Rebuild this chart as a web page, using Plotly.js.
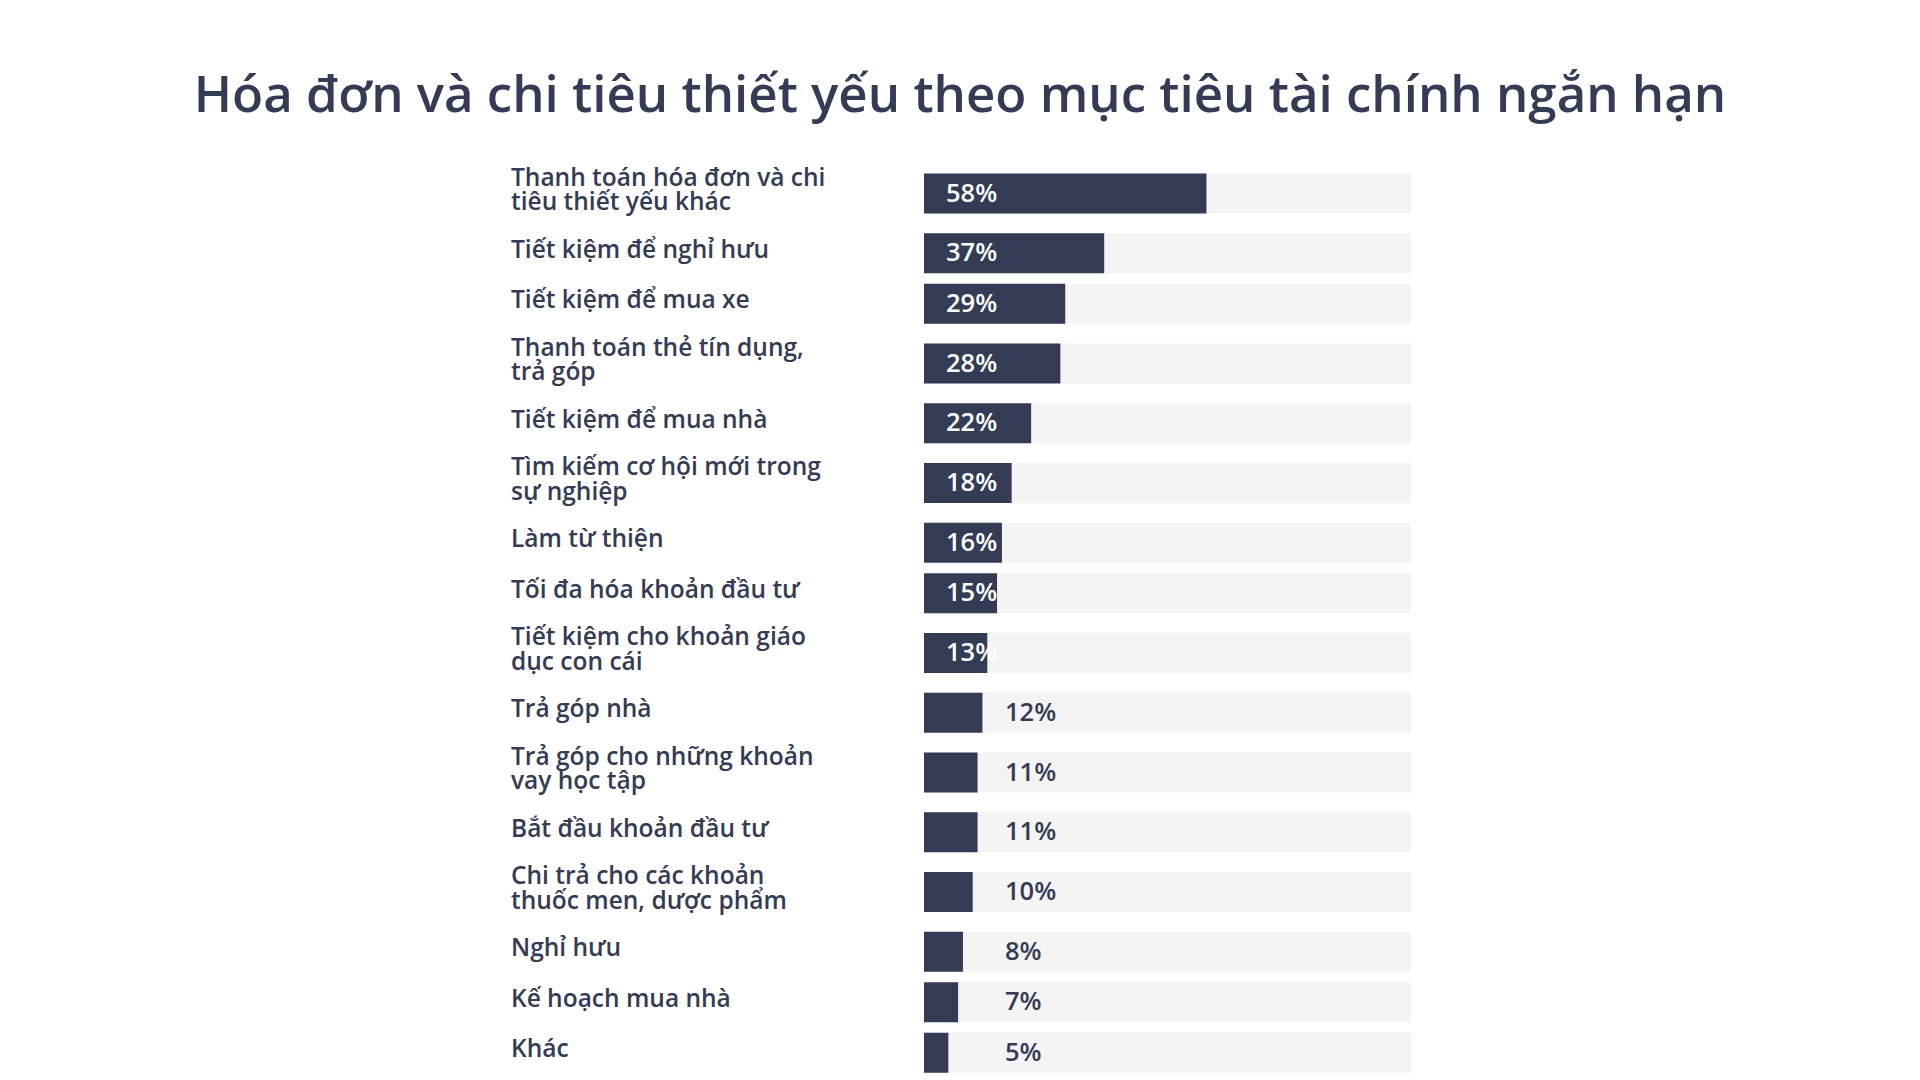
<!DOCTYPE html>
<html>
<head>
<meta charset="utf-8">
<script src="https://cdn.plot.ly/plotly-3.0.1.min.js"></script>
<style>
  body { margin: 0; background: #fff; }
  #chart { width: 1920px; height: 1080px; }
</style>
</head>
<body>
<div id="chart"></div>
<script>
// labels top to bottom, <br> marks where the original wraps
var goals = [
  "Thanh toán hóa đơn và chi<br>tiêu thiết yếu khác",
  "Tiết kiệm để nghỉ hưu",
  "Tiết kiệm để mua xe",
  "Thanh toán thẻ tín dụng,<br>trả góp",
  "Tiết kiệm để mua nhà",
  "Tìm kiếm cơ hội mới trong<br>sự nghiệp",
  "Làm từ thiện",
  "Tối đa hóa khoản đầu tư",
  "Tiết kiệm cho khoản giáo<br>dục con cái",
  "Trả góp nhà",
  "Trả góp cho những khoản<br>vay học tập",
  "Bắt đầu khoản đầu tư",
  "Chi trả cho các khoản<br>thuốc men, dược phẩm",
  "Nghỉ hưu",
  "Kế hoạch mua nhà",
  "Khác"
];
var shares = [58, 37, 29, 28, 22, 18, 16, 15, 13, 12, 11, 11, 10, 8, 7, 5];
var fullScale = 100;

var navy = "#343b55";
var track = "#f4f4f4";
var font = "Open Sans, Noto Sans, sans-serif";

// rows with two-line labels get more room, like the original
var rowH1 = 50.5, rowH2 = 69;
var ypos = [];
var acc = 0;
for (var i = 0; i < goals.length; i++) {
  var h = goals[i].indexOf("<br>") >= 0 ? rowH2 : rowH1;
  ypos.push(acc + h / 2);
  acc += h;
}
var total = acc;

var trackTrace = {
  type: "bar",
  orientation: "h",
  x: goals.map(function () { return fullScale; }),
  y: ypos,
  width: 40,
  marker: { color: track },
  hoverinfo: "skip",
  showlegend: false
};

var barTrace = {
  type: "bar",
  orientation: "h",
  x: shares,
  y: ypos,
  width: 40,
  marker: { color: navy },
  hoverinfo: "skip",
  showlegend: false
};

// each label line is its own annotation so the tight line spacing can be kept
var lineGap = 24.5;
var annotations = [];
for (var j = 0; j < goals.length; j++) {
  var lines = goals[j].split("<br>");
  for (var k = 0; k < lines.length; k++) {
    var off = (lines.length - 1) / 2 - k;
    annotations.push({
      xref: "paper", yref: "y",
      x: -0.852, y: ypos[j],
      xanchor: "left", yanchor: "middle", align: "left",
      yshift: 5 + off * lineGap,
      text: lines[k],
      showarrow: false,
      font: { family: font, size: 24.5, color: navy, weight: 600 }
    });
  }
  var inside = shares[j] >= 13;
  annotations.push({
    xref: "x", yref: "y",
    x: 0, y: ypos[j],
    xanchor: "left", yanchor: "middle",
    xshift: inside ? 20 : 79,
    yshift: 2,
    text: shares[j] + "%",
    showarrow: false,
    font: { family: font, size: 25.5, color: inside ? "#ffffff" : navy, weight: 600 }
  });
}

var layout = {
  width: 1920,
  height: 1080,
  margin: { l: 924, r: 509, t: 159, b: 2 },
  paper_bgcolor: "#ffffff",
  plot_bgcolor: "#ffffff",
  barmode: "overlay",
  title: {
    text: "Hóa đơn và chi tiêu thiết yếu theo mục tiêu tài chính ngắn hạn",
    font: { family: font, size: 51, color: navy, weight: 600 },
    x: 0.5, xanchor: "center",
    y: 1 - 94 / 1080, yref: "container", yanchor: "middle"
  },
  xaxis: {
    range: [0, fullScale],
    showgrid: false, zeroline: false, showticklabels: false, showline: false,
    fixedrange: true
  },
  yaxis: {
    range: [total, 0],
    showgrid: false, zeroline: false, showticklabels: false, showline: false,
    fixedrange: true
  },
  annotations: annotations
};

Plotly.newPlot("chart", [trackTrace, barTrace], layout, { displayModeBar: false, staticPlot: true });
</script>
</body>
</html>
